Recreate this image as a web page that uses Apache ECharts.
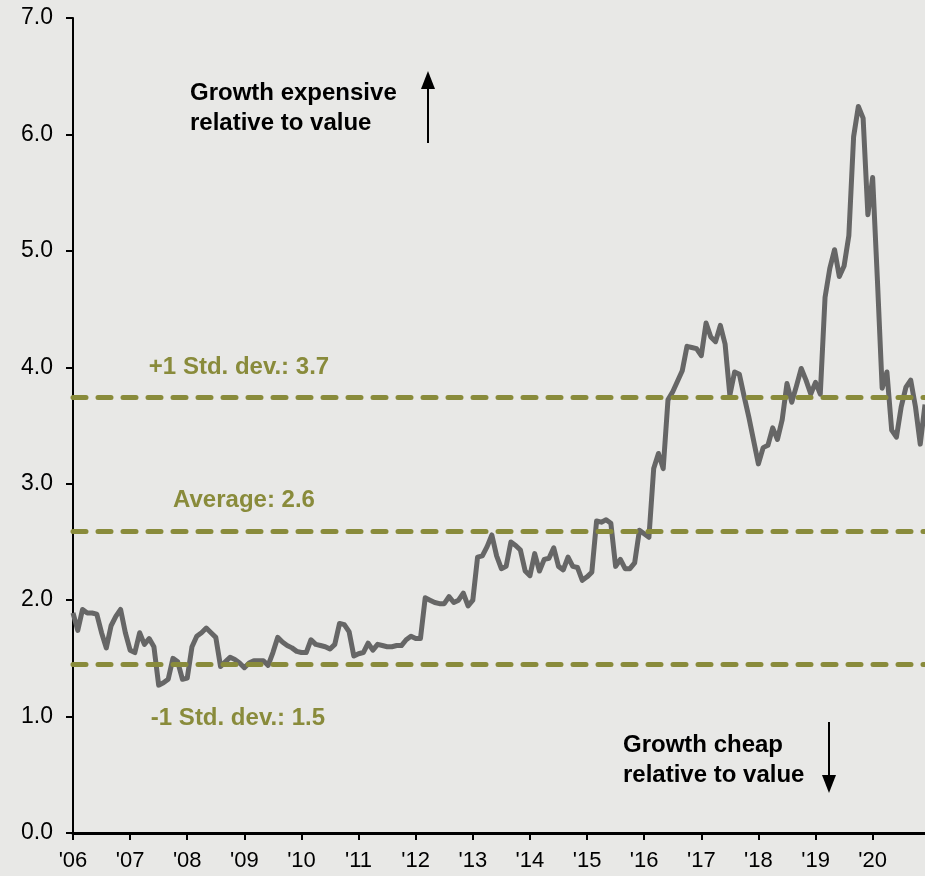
<!DOCTYPE html>
<html>
<head>
<meta charset="utf-8">
<script src="https://cdn.jsdelivr.net/npm/echarts@6/dist/echarts.min.js"></script>
<style>
html,body{margin:0;padding:0;background:#e8e8e6;}
#chart{width:925px;height:876px;}
</style>
</head>
<body>
<div id="chart"></div>
<script>
// Years covered (monthly observations, Jan 2006 - Dec 2020)
var years = [2006,2007,2008,2009,2010,2011,2012,2013,2014,2015,2016,2017,2018,2019,2020];

// Growth vs value relative valuation, monthly
var values = [
 1.89,1.74,1.92,1.89,1.89,1.88,1.72,1.59,1.78,1.86,1.92,1.72,
 1.57,1.55,1.72,1.62,1.67,1.60,1.27,1.29,1.32,1.50,1.47,1.32,
 1.33,1.60,1.69,1.72,1.76,1.72,1.68,1.43,1.47,1.51,1.49,1.46,
 1.42,1.46,1.48,1.48,1.48,1.44,1.55,1.68,1.64,1.61,1.59,1.56,
 1.55,1.55,1.66,1.62,1.61,1.60,1.58,1.62,1.80,1.79,1.73,1.52,
 1.54,1.55,1.63,1.57,1.62,1.61,1.60,1.60,1.61,1.61,1.66,1.69,
 1.67,1.67,2.02,2.00,1.98,1.97,1.97,2.03,1.98,2.00,2.06,1.95,
 2.00,2.37,2.38,2.46,2.56,2.38,2.27,2.29,2.50,2.47,2.43,2.25,
 2.21,2.40,2.25,2.35,2.36,2.45,2.29,2.26,2.37,2.29,2.28,2.17,
 2.20,2.24,2.68,2.67,2.69,2.66,2.29,2.35,2.27,2.27,2.32,2.60,
 2.57,2.54,3.13,3.26,3.13,3.72,3.79,3.88,3.97,4.18,4.17,4.16,
 4.10,4.38,4.26,4.22,4.36,4.20,3.76,3.96,3.94,3.75,3.57,3.37,
 3.17,3.31,3.33,3.48,3.38,3.55,3.86,3.70,3.84,3.99,3.89,3.77,
 3.87,3.77,4.60,4.85,5.01,4.78,4.87,5.13,5.98,6.24,6.14,5.31,
 5.63,4.75,3.82,3.96,3.46,3.40,3.66,3.83,3.89,3.66,3.34,3.68
];

// Reference lines and their labels
var refValues = [3.74, 2.59, 1.45];
var refLabels = ['+1 Std. dev.: 3.7', 'Average: 2.6', '-1 Std. dev.: 1.5'];

// Y axis ticks
var yTicks = [0,1,2,3,4,5,6,7];

var categories = [];
years.forEach(function(y){
  for (var m = 1; m <= 12; m++) categories.push(y + '-' + (m < 10 ? '0' + m : m));
});

var olive = '#898b3b';
var fontFam = '"Liberation Sans", Arial, Helvetica, sans-serif';

var chart = echarts.init(document.getElementById('chart'));
chart.setOption({
  backgroundColor: '#e8e8e6',
  animation: false,
  grid: {left: 73, right: 0, top: 18, bottom: 43, containLabel: false},
  xAxis: {
    type: 'category',
    data: categories,
    boundaryGap: false,
    axisLine: {lineStyle: {color: '#000', width: 3}},
    axisTick: {show: true, interval: 11, length: 7, lineStyle: {color: '#000', width: 2}},
    axisLabel: {
      interval: 11, margin: 17, color: '#000', fontSize: 22, fontFamily: fontFam,
      formatter: function(v){ return "'" + v.slice(2,4); }
    },
    splitLine: {show: false}
  },
  yAxis: {
    type: 'value',
    min: yTicks[0], max: yTicks[yTicks.length-1], interval: 1,
    axisLine: {show: true, lineStyle: {color: '#000', width: 2}},
    axisTick: {show: true, length: 7, lineStyle: {color: '#000', width: 2}},
    axisLabel: {margin: 20, color: '#000', fontSize: 23, fontFamily: fontFam,
      formatter: function(v){ return v.toFixed(1); }},
    splitLine: {show: false}
  },
  series: [
    {
      type: 'line', data: [], z: 1, silent: true,
      markLine: {
        silent: true, symbol: 'none', animation: false,
        label: {show: false},
        lineStyle: {color: olive, width: 5, type: [13, 12], cap: 'round'},
        data: refValues.map(function(v){ return {yAxis: v}; })
      }
    },
    {
      type: 'line', data: values, z: 3, showSymbol: false, smooth: false,
      lineStyle: {color: '#666666', width: 5, join: 'round'},
      itemStyle: {color: '#666666'}
    }
  ],
  graphic: [
    {type: 'text', left: 190, top: 78, style: {text: 'Growth expensive\nrelative to value', fill: '#000', font: 'bold 24px ' + fontFam, lineHeight: 30}},
    {type: 'line', shape: {x1: 428, y1: 143, x2: 428, y2: 84}, style: {stroke: '#000', lineWidth: 2}},
    {type: 'polygon', shape: {points: [[428, 71], [421, 89], [435, 89]]}, style: {fill: '#000'}},
    {type: 'text', left: 623, top: 730, style: {text: 'Growth cheap\nrelative to value', fill: '#000', font: 'bold 24px ' + fontFam, lineHeight: 30}},
    {type: 'line', shape: {x1: 829, y1: 722, x2: 829, y2: 780}, style: {stroke: '#000', lineWidth: 2}},
    {type: 'polygon', shape: {points: [[829, 793], [822, 775], [836, 775]]}, style: {fill: '#000'}},
    {type: 'text', x: 239, y: 367, style: {text: refLabels[0], fill: olive, font: 'bold 24px ' + fontFam, align: 'center', verticalAlign: 'middle'}},
    {type: 'text', x: 244, y: 500, style: {text: refLabels[1], fill: olive, font: 'bold 24px ' + fontFam, align: 'center', verticalAlign: 'middle'}},
    {type: 'text', x: 238, y: 718, style: {text: refLabels[2], fill: olive, font: 'bold 24px ' + fontFam, align: 'center', verticalAlign: 'middle'}}
  ]
});
</script>
</body>
</html>
